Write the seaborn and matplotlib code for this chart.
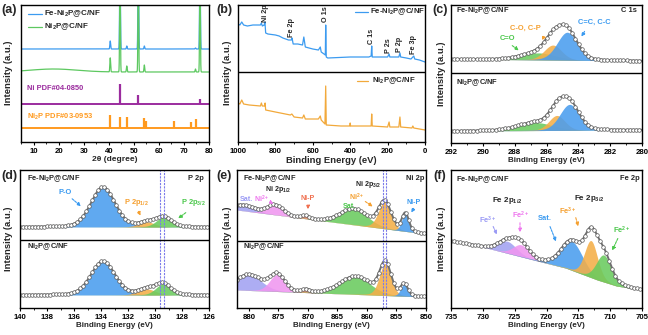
import numpy as np
import pandas as pd
import matplotlib
matplotlib.use("Agg")
import matplotlib.pyplot as plt
from matplotlib.lines import Line2D
from matplotlib.ticker import MultipleLocator
import seaborn as sns

sns.set_theme(style="ticks")
plt.rcParams.update({
    "font.family": ["Liberation Sans", "DejaVu Sans"],
    "font.weight": "bold",
    "axes.labelweight": "bold",
    "mathtext.fontset": "custom",
    "mathtext.rm": "Liberation Sans:bold",
    "mathtext.it": "Liberation Sans:bold",
    "mathtext.bf": "Liberation Sans:bold",
    "mathtext.default": "rm",
    "axes.linewidth": 1.0,
    "axes.edgecolor": "black",
    "xtick.direction": "out",
    "xtick.major.size": 2.5,
    "xtick.minor.size": 1.5,
    "xtick.major.width": 0.8,
    "xtick.minor.width": 0.6,
    "xtick.major.pad": 1.5,
    "xtick.labelsize": 5.6,
    "xtick.color": "black",
})

# ---------------- data: (a) XRD ----------------
xrd_peak_pos = [40.6, 44.5, 47.2, 51.8, 54.2, 74.6, 76.4]
fe_xrd_height = [8, 95, 3, 95, 3, 1, 95]
ni2p_xrd_height = [14, 95, 6, 95, 7, 3, 95]
fe_xrd_base = 93
ni2p_xrd_base = 70
ni2p_hump = [18, 3, 22]            # centre, height, fwhm of amorphous hump
ni_pdf_pos = [44.5, 51.85, 76.4]
ni_pdf_height = [20, 9, 5]
ni2p_pdf_pos = [40.7, 44.6, 47.4, 54.2, 55.0, 66.2, 72.7, 74.7]
ni2p_pdf_height = [13, 11, 11, 10, 7, 7, 6, 9]
ni_pdf_base = 38
ni2p_pdf_base = 14

# ---------------- data: (b) survey ----------------
fe_survey_be = [1000, 990, 980, 970, 950, 920, 900, 880, 875, 870, 860, 856, 852, 840, 800, 780, 760,
                730, 715, 711, 705, 680, 655, 648, 640, 600, 570, 560, 555, 540, 533, 531, 528, 520,
                400, 300, 288, 285, 282, 200, 192, 188, 140, 134, 130, 100, 75, 60, 55, 30, 0]
fe_survey_int = [118, 117, 120, 117, 116, 117, 117, 117, 119, 116, 117, 120, 109, 108, 107, 106, 104,
                 102, 102, 104, 98, 98, 97, 105, 95, 93, 92, 95, 90, 88, 87, 117, 85, 84,
                 85, 85, 86, 96, 85, 85, 88, 85, 85, 89, 85, 84, 83, 86, 83, 82, 80]
ni2p_survey_be = [1000, 990, 980, 970, 940, 880, 875, 870, 858, 855, 852, 800, 720, 712, 700, 655, 648,
                  640, 570, 560, 555, 535, 531, 528, 450, 402, 400, 398, 300, 288, 285, 282, 200, 192,
                  188, 140, 134, 130, 70, 65, 60, 0]
ni2p_survey_int = [39, 38, 42, 38, 37, 36, 39, 36, 36, 39, 32, 30, 27, 28, 25, 24, 27,
                   23, 23, 26, 22, 18, 56, 17, 16, 16, 19, 16, 16, 16, 28, 16, 15, 20,
                   15, 15, 25, 15, 14, 16, 14, 12]
survey_labels = ["Ni 2p", "Fe 2p", "O 1s", "C 1s", "P 2s", "P 2p", "Fe 3p"]
survey_label_be = [855, 712, 531, 285, 193, 136, 62]
survey_label_int = [120, 105, 120, 98, 89, 90, 88]

# ---------------- data: (c) C 1s ----------------
c1s_bg_be = [292, 280]
c1s_fe_bg = [84, 82]
c1s_ni_bg = [12, 13]
c1s_centres_fe = [286.5, 285.6, 284.7]
c1s_heights_fe = [7, 15, 28]
c1s_fwhm_fe = [2.5, 1.3, 1.5]
c1s_centres_ni = [286.7, 285.35, 284.55]
c1s_heights_ni = [8, 15, 26]
c1s_fwhm_ni = [2.6, 1.2, 1.45]

# ---------------- data: (d) P 2p ----------------
p2p_bg_be = [140, 126]
p2p_fe_bg = [81, 81]
p2p_ni_bg = [13, 13]
p2p_centres_fe = [133.85, 130.6, 129.35]
p2p_heights_fe = [40, 5, 10]
p2p_fwhm_fe = [2.1, 1.4, 1.3]
p2p_centres_ni = [133.85, 130.6, 129.4]
p2p_heights_ni = [34, 6, 11]
p2p_fwhm_ni = [2.1, 1.5, 1.3]
p2p_marker_be = [129.6, 129.35]

# ---------------- data: (e) Ni 2p ----------------
ni2p_bg_be = [882, 850]
ni_fe_bg = [98, 74]
ni_ni_bg = [18, 11]
ni_centres_fe = [880.8, 875.5, 870.4, 862.2, 857.0, 853.5]
ni_heights_fe = [6, 10, 3, 16, 27, 18]
ni_fwhm_fe = [4.5, 3.2, 1.5, 5.5, 2.5, 1.4]
ni_centres_ni = [880.0, 875.2, 870.3, 862.0, 856.9, 853.7]
ni_heights_ni = [16, 17, 3, 18, 32, 12]
ni_fwhm_ni = [5.0, 3.0, 1.5, 6.0, 2.3, 1.4]
ni_marker_be = [857.2, 856.8]

# ---------------- data: (f) Fe 2p ----------------
fe2p_bg_be = [735, 730, 722, 717, 712, 709, 705]
fe2p_bg = [67, 61, 48, 40, 28, 22, 18]
fe2p_centres = [726.2, 724.0, 716.0, 713.0, 711.0]
fe2p_heights = [12, 12, 29, 37, 27]
fe2p_fwhm = [3.5, 3.0, 4.0, 2.4, 2.8]

# ---------------- colours ----------------
BLUE, ORANGE, GREEN = "#4A9DEE", "#F4AE48", "#6ACB5E"
LAV, PINK, RED = "#A2A2F2", "#F096F0", "#F5866A"
TBLUE, TORANGE, TGREEN = "#3A9AF0", "#F5A030", "#4CC84C"
TLAV, TPINK, TRED = "#9A9AF5", "#EE77EE", "#F07050"
PURPLE, XORANGE = "#9B2C9E", "#FF9A1F"

W, H = 648, 335
fig = plt.figure(figsize=(W / 100, H / 100), dpi=100)


def add_ax(l, t, r, b):
    return fig.add_axes([l / W, 1 - b / H, (r - l) / W, (b - t) / H])


def ftext(px, py, s, **kw):
    kw.setdefault("fontsize", 5.4)
    kw.setdefault("ha", "center")
    kw.setdefault("va", "center")
    fig.text(px / W, 1 - py / H, s, **kw)


def farrow(x1, y1, x2, y2, color):
    fig.add_artist(matplotlib.patches.FancyArrowPatch(
        (x1 / W, 1 - y1 / H), (x2 / W, 1 - y2 / H), transform=fig.transFigure,
        arrowstyle="-|>", mutation_scale=5, color=color, lw=0.8, linestyle=(0, (2, 1))))


def pv(x, c, h, w, eta=0.2):
    d = (x - c) / w
    return h * ((1 - eta) * np.exp(-4 * np.log(2) * d ** 2) + eta / (1 + 4 * d ** 2))


def style(ax, lo, hi, major, minor, ytop):
    ax.set_xlim(lo, hi)
    ax.set_ylim(0, ytop)
    ax.set_yticks([])
    ax.xaxis.set_major_locator(MultipleLocator(major))
    ax.xaxis.set_minor_locator(MultipleLocator(minor))
    ax.tick_params(axis="x", which="both", bottom=True)
    for lab in ax.get_xticklabels():
        lab.set_fontweight("bold")
    for s in ax.spines.values():
        s.set_visible(True)
        s.set_linewidth(1.0)


def draw_xps(ax, x, bg, centres, heights, fwhms, colors, every=7):
    total = np.zeros_like(x)
    for c, h, w, col in zip(centres, heights, fwhms, colors):
        y = pv(x, c, h, w)
        total += y
        ax.fill_between(x, bg, bg + y, color=col, alpha=0.88, lw=0)
    env = bg + total
    ax.plot(x, env, color="#707070", lw=1.4)
    ax.plot(x, env, ls="none", marker="o", ms=2.6, mfc="white", mec="#555555", mew=0.5,
            markevery=every)


def ylab(px, py):
    ftext(px, py, "Intensity (a.u.)", rotation=90, fontsize=6.8)


# ================= (a) =================
ax = add_ax(21, 5, 209, 142)
tt = np.linspace(5, 80, 4000)
fe_y = fe_xrd_base + sum(pv(tt, c, h, 0.35, 0.0) for c, h in zip(xrd_peak_pos, fe_xrd_height))
ni_y = ni2p_xrd_base + pv(tt, *ni2p_hump, 0.0) + sum(
    pv(tt, c, h, 0.35, 0.0) for c, h in zip(xrd_peak_pos, ni2p_xrd_height))
dfa = pd.DataFrame({"t": np.concatenate([tt, tt]), "y": np.concatenate([fe_y, ni_y]),
                    "s": ["fe"] * len(tt) + ["ni"] * len(tt)})
sns.lineplot(data=dfa, x="t", y="y", hue="s", palette={"fe": "#3C9BF0", "ni": "#5DC860"},
             lw=0.9, legend=False, ax=ax, estimator=None, sort=False)
ax.axhline(ni_pdf_base, color=PURPLE, lw=1.4)
ax.vlines(ni_pdf_pos, ni_pdf_base, np.array(ni_pdf_height) + ni_pdf_base, color=PURPLE, lw=1.6)
ax.axhline(ni2p_pdf_base, color=XORANGE, lw=1.4)
ax.vlines(ni2p_pdf_pos, ni2p_pdf_base, np.array(ni2p_pdf_height) + ni2p_pdf_base, color=XORANGE, lw=1.6)
style(ax, 5, 80, 10, 5, 137)
ax.set_xlabel("2θ (degree)", fontsize=6.0, labelpad=1)
ax.set_ylabel("")
ylab(9, 73)
for yy, col, lab in [(14, "#3C9BF0", "Fe-Ni$_2$P@C/NF"), (27, "#5DC860", "Ni$_2$P@C/NF")]:
    fig.add_artist(Line2D([28 / W, 42 / W], [1 - yy / H, 1 - yy / H], color=col, lw=0.9))
    ftext(44, yy, lab, ha="left", fontsize=5.8)
ftext(27, 89, "Ni PDF#04-0850", ha="left", color=PURPLE, fontsize=5.4)
ftext(27, 117, "Ni$_2$P PDF#03-0953", ha="left", color=XORANGE, fontsize=5.4)
ftext(9, 10, "(a)", fontsize=9)

# ================= (b) =================
ax = add_ax(238, 5, 425, 142)
dfb = pd.DataFrame({"be": fe_survey_be + ni2p_survey_be,
                    "y": fe_survey_int + ni2p_survey_int,
                    "s": ["fe"] * len(fe_survey_be) + ["ni"] * len(ni2p_survey_be)})
sns.lineplot(data=dfb, x="be", y="y", hue="s", palette={"fe": "#3C9BF0", "ni": "#F2A93B"},
             lw=0.9, legend=False, ax=ax, estimator=None, sort=False)
ax.axhline(70, color="black", lw=1.0)
style(ax, 1000, 0, 200, 100, 137)
ax.set_xlabel("Binding Energy (eV)", fontsize=6.8, labelpad=1)
ax.set_ylabel("")
for lab, xb, yb in zip(survey_labels, survey_label_be, survey_label_int):
    ax.text(xb, yb, lab, rotation=90, ha="center", va="bottom", fontsize=5.2)
ylab(228, 73)
fig.add_artist(Line2D([355 / W, 368 / W], [1 - 12 / H, 1 - 12 / H], color="#3C9BF0", lw=0.9))
ftext(370, 12, "Fe-Ni$_2$P@C/NF", ha="left", fontsize=5.6)
fig.add_artist(Line2D([357 / W, 368 / W], [1 - 81 / H, 1 - 81 / H], color="#F2A93B", lw=0.9))
ftext(372, 81, "Ni$_2$P@C/NF", ha="left", fontsize=5.6)
ftext(224, 10, "(b)", fontsize=9)

# ================= (c) =================
ax = add_ax(451, 5, 642, 143)
xc = np.linspace(292, 280, 420)
draw_xps(ax, xc, np.interp(xc, c1s_bg_be[::-1], c1s_fe_bg[::-1]),
         c1s_centres_fe, c1s_heights_fe, c1s_fwhm_fe, [GREEN, ORANGE, BLUE])
draw_xps(ax, xc, np.interp(xc, c1s_bg_be[::-1], c1s_ni_bg[::-1]),
         c1s_centres_ni, c1s_heights_ni, c1s_fwhm_ni, [GREEN, ORANGE, BLUE])
ax.axhline(70, color="black", lw=1.0)
style(ax, 292, 280, 2, 1, 138)
ax.set_xlabel("Binding Energy (eV)", fontsize=5.8, labelpad=1)
ylab(442, 74)
ftext(456, 11, "Fe-Ni$_2$P@C/NF", ha="left")
ftext(637, 11, "C 1s", ha="right")
ftext(456, 83, "Ni$_2$P@C/NF", ha="left")
ftext(507, 38, "C=O", color=TGREEN)
farrow(510, 44, 521, 52, TGREEN)
ftext(525, 28, "C-O, C-P", color=TORANGE)
farrow(545, 34, 541, 43, TORANGE)
ftext(594, 22, "C=C, C-C", color=TBLUE)
farrow(586, 29, 580, 39, TBLUE)
ftext(440, 10, "(c)", fontsize=9)

# ================= (d) =================
ax = add_ax(20, 170, 209, 308)
xd = np.linspace(140, 126, 440)
draw_xps(ax, xd, np.interp(xd, p2p_bg_be[::-1], p2p_fe_bg[::-1]),
         p2p_centres_fe, p2p_heights_fe, p2p_fwhm_fe, [BLUE, ORANGE, GREEN])
draw_xps(ax, xd, np.interp(xd, p2p_bg_be[::-1], p2p_ni_bg[::-1]),
         p2p_centres_ni, p2p_heights_ni, p2p_fwhm_ni, [BLUE, ORANGE, GREEN])
for xb in p2p_marker_be:
    ax.axvline(xb, color="#7B7BEA", lw=0.8, ls=(0, (2, 1)))
ax.axhline(68, color="black", lw=1.0)
style(ax, 140, 126, 2, 1, 138)
ax.set_xlabel("Binding Energy (eV)", fontsize=5.8, labelpad=1)
ylab(9, 239)
ftext(27, 179, "Fe-Ni$_2$P@C/NF", ha="left")
ftext(204, 179, "P 2p", ha="right")
ftext(27, 247, "Ni$_2$P@C/NF", ha="left")
ftext(65, 192, "P-O", color=TBLUE)
farrow(70, 197, 83, 208, TBLUE)
ftext(136, 203, "P 2p$_{1/2}$", color=TORANGE)
farrow(137, 209, 142, 218, TORANGE)
ftext(193, 203, "P 2p$_{3/2}$", color=TGREEN)
farrow(188, 211, 176, 220, TGREEN)
ftext(9, 176, "(d)", fontsize=9)

# ================= (e) =================
ax = add_ax(237, 170, 426, 308)
xe = np.linspace(882, 850, 440)
ecolors = [LAV, PINK, RED, GREEN, ORANGE, BLUE]
draw_xps(ax, xe, np.interp(xe, ni2p_bg_be[::-1], ni_fe_bg[::-1]),
         ni_centres_fe, ni_heights_fe, ni_fwhm_fe, ecolors)
draw_xps(ax, xe, np.interp(xe, ni2p_bg_be[::-1], ni_ni_bg[::-1]),
         ni_centres_ni, ni_heights_ni, ni_fwhm_ni, ecolors)
for xb in ni_marker_be:
    ax.axvline(xb, color="#7B7BEA", lw=0.8, ls=(0, (2, 1)))
ax.axhline(67, color="black", lw=1.0)
style(ax, 882, 850, 5, 2.5, 138)
ax.set_xlabel("Binding Energy (eV)", fontsize=5.8, labelpad=1)
ylab(227, 239)
ftext(243, 179, "Fe-Ni$_2$P@C/NF", ha="left")
ftext(424, 179, "Ni 2p", ha="right")
ftext(243, 247, "Ni$_2$P@C/NF", ha="left")
ftext(278, 189, "Ni 2p$_{1/2}$", fontsize=5.1)
ftext(368, 185, "Ni 2p$_{3/2}$", fontsize=5.1)
ftext(246, 200, "Sat.", color=TLAV, fontsize=5.1)
ftext(262, 199, "Ni$^{2+}$", color=TPINK, fontsize=5.1)
farrow(268, 201, 276, 205, TPINK)
ftext(308, 199, "Ni-P", color=TRED, fontsize=5.1)
farrow(308, 203, 308, 212, TRED)
ftext(349, 206, "Sat.", color=TGREEN, fontsize=5.1)
ftext(357, 197, "Ni$^{2+}$", color=TORANGE, fontsize=5.1)
farrow(363, 200, 375, 208, TORANGE)
ftext(414, 202, "Ni-P", color=TBLUE, fontsize=5.1)
farrow(415, 206, 410, 215, TBLUE)
ftext(224, 176, "(e)", fontsize=9)

# ================= (f) =================
ax = add_ax(451, 170, 642, 308)
xf = np.linspace(735, 705, 440)
draw_xps(ax, xf, np.interp(xf, fe2p_bg_be[::-1], fe2p_bg[::-1]),
         fe2p_centres, fe2p_heights, fe2p_fwhm, [LAV, PINK, BLUE, ORANGE, GREEN])
style(ax, 735, 705, 5, 2.5, 138)
ax.set_xlabel("Binding Energy (eV)", fontsize=5.8, labelpad=1)
ylab(442, 239)
ftext(456, 180, "Fe-Ni$_2$P@C/NF", ha="left")
ftext(640, 179, "Fe 2p", ha="right")
ftext(507, 201, "Fe 2p$_{1/2}$", fontsize=5.8)
ftext(589, 198, "Fe 2p$_{3/2}$", fontsize=5.8)
ftext(488, 220, "Fe$^{3+}$", color=TLAV)
farrow(492, 224, 498, 237, TLAV)
ftext(521, 215, "Fe$^{2+}$", color=TPINK)
farrow(520, 220, 520, 235, TPINK)
ftext(545, 219, "Sat.", color=TBLUE)
farrow(549, 224, 557, 244, TBLUE)
ftext(568, 211, "Fe$^{3+}$", color=TORANGE)
farrow(575, 215, 579, 229, TORANGE)
ftext(622, 230, "Fe$^{2+}$", color=TGREEN)
farrow(619, 236, 611, 253, TGREEN)
ftext(440, 176, "(f)", fontsize=9)

fig.savefig("out.png", dpi=100)
